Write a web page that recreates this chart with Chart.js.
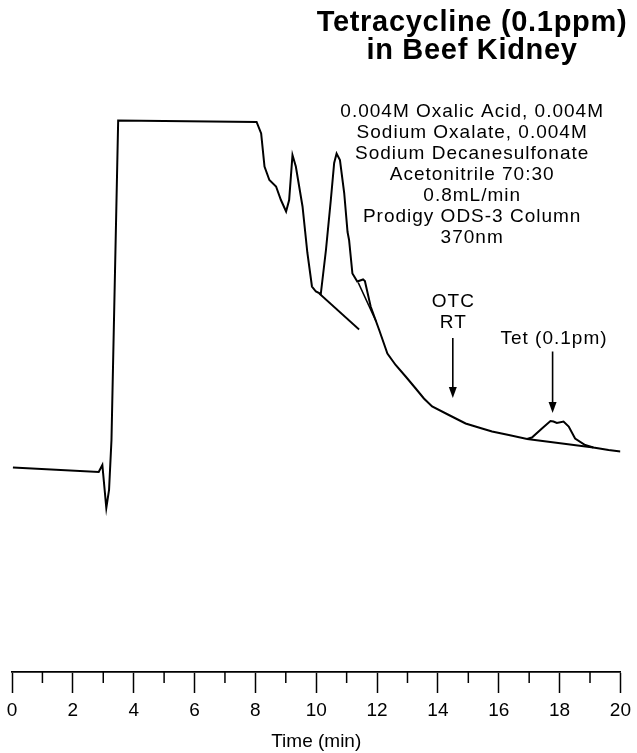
<!DOCTYPE html>
<html>
<head>
<meta charset="utf-8">
<script src="https://cdn.jsdelivr.net/npm/chart.js@4"></script>
<style>
    html, body { margin: 0; padding: 0; background: #fff; }
    #wrap { width: 637px; height: 753px; position: relative; }
</style>
</head>
<body>
<div id="wrap"><canvas id="chart"></canvas></div>
<script>
// chromatogram trace (time in min, detector response in arbitrary units)
const traceTime = [
    0.03, 2.85, 2.97, 3.10, 3.19, 3.27, 3.49, 8.04, 8.19, 8.30,
    8.46, 8.68, 8.84, 9.01, 9.11, 9.22, 9.33, 9.55, 9.71, 9.86,
    9.99, 10.15, 10.32, 10.48, 10.59, 10.67, 10.78, 10.92, 11.03, 11.08,
    11.19, 11.35, 11.54, 11.60, 11.79, 12.07, 12.34, 12.61, 12.94, 13.27,
    13.54, 13.81, 14.36, 14.91, 15.45, 15.78, 16.33, 16.93, 17.09, 17.42,
    17.70, 17.80, 17.91, 18.13, 18.30, 18.51, 18.84, 19.11, 19.61, 20.00
];
const traceSignal = [
    40.9, 40.0, 41.4, 32.8, 36.4, 46.4, 110.3, 110.0, 107.7, 101.1,
    98.4, 97.1, 94.4, 92.1, 94.4, 103.4, 101.1, 93.1, 83.8, 77.1,
    76.1, 75.6, 84.4, 94.4, 101.8, 103.7, 102.4, 95.8, 88.0, 86.4,
    79.7, 78.1, 78.5, 78.2, 73.1, 68.4, 63.7, 61.4, 59.1, 56.7,
    54.7, 53.1, 51.4, 49.7, 48.7, 48.1, 47.4, 46.6, 46.9, 48.7,
    50.2, 50.1, 49.8, 50.1, 49.1, 46.7, 45.4, 44.9, 44.4, 44.1
];

// integration baselines drawn under the peaks
const baseTime1   = [10.10, 11.41];
const baseSignal1 = [75.7, 68.5];
const baseTime2   = [11.38, 11.97];
const baseSignal2 = [77.9, 70.1];
const baseTime3   = [16.93, 19.11];
const baseSignal3 = [46.6, 44.9];

// arrows: [time, from, to]
const otcArrow = [14.49, 66.8, 54.8];
const tetArrow = [17.77, 64.1, 51.8];

// axis ticks
const majorTicks = [0, 2, 4, 6, 8, 10, 12, 14, 16, 18, 20];
const minorTicks = [1, 3, 5, 7, 9, 11, 13, 15, 17, 19];

const titleLines = ['Tetracycline (0.1ppm)', 'in Beef Kidney'];
const methodLines = [
    '0.004M Oxalic Acid, 0.004M',
    'Sodium Oxalate, 0.004M',
    'Sodium Decanesulfonate',
    'Acetonitrile 70:30',
    '0.8mL/min',
    'Prodigy ODS-3 Column',
    '370nm'
];
const otcLines = ['OTC', 'RT'];
const tetLines = ['Tet (0.1pm)'];

let chromatogram = {
    variables : {
        ink      : '#000',
        fontFace : '"Liberation Sans", Arial, Helvetica, sans-serif'
    },
    functions : {
        points : ( xs, ys ) => xs.map( ( t, i ) => ( { x: t, y: ys[ i ] } ) ),

        line : ( data, width ) => ( {
            data: data,
            showLine: true,
            borderColor: chromatogram.variables.ink,
            borderWidth: width,
            pointRadius: 0,
            tension: 0,
            fill: false
        } ),

        // text block centred on a (time, signal) spot, lines stepping down in pixels
        textBlock : ( ctx, chart, lines, t, v, font, step, spacing ) => {
            let px = chart.scales.x.getPixelForValue( t );
            let py = chart.scales.y.getPixelForValue( v );
            ctx.font = font;
            ctx.letterSpacing = spacing + 'px';
            ctx.textAlign = 'center';
            ctx.textBaseline = 'alphabetic';
            ctx.fillStyle = chromatogram.variables.ink;
            lines.forEach( ( s, i ) => {
                ctx.fillText( s, px + spacing / 2, py + i * step );
            } );
        },

        arrow : ( ctx, chart, a ) => {
            let px   = chart.scales.x.getPixelForValue( a[ 0 ] );
            let top  = chart.scales.y.getPixelForValue( a[ 1 ] );
            let tip  = chart.scales.y.getPixelForValue( a[ 2 ] );
            ctx.strokeStyle = chromatogram.variables.ink;
            ctx.fillStyle = chromatogram.variables.ink;
            ctx.lineWidth = 1.6;
            ctx.beginPath();
            ctx.moveTo( px, top );
            ctx.lineTo( px, tip - 8 );
            ctx.stroke();
            ctx.beginPath();
            ctx.moveTo( px - 4, tip - 11 );
            ctx.lineTo( px + 4, tip - 11 );
            ctx.lineTo( px, tip );
            ctx.closePath();
            ctx.fill();
        }
    }
};

const extras = {
    id: 'extras',
    afterDraw( chart ) {
        let ctx  = chart.ctx;
        let area = chart.chartArea;
        let fn   = chromatogram.functions;
        let face = chromatogram.variables.fontFace;
        ctx.save();

        // minor ticks, shorter than the labelled ones
        ctx.strokeStyle = chromatogram.variables.ink;
        ctx.lineWidth = 1.5;
        minorTicks.forEach( ( t ) => {
            let px = chart.scales.x.getPixelForValue( t );
            ctx.beginPath();
            ctx.moveTo( px, area.bottom );
            ctx.lineTo( px, area.bottom + 11 );
            ctx.stroke();
        } );

        fn.arrow( ctx, chart, otcArrow );
        fn.arrow( ctx, chart, tetArrow );

        fn.textBlock( ctx, chart, titleLines, 15.11, 128.2, 'bold 29px ' + face, 28, 0.7 );
        fn.textBlock( ctx, chart, methodLines, 15.11, 111.0, '19px ' + face, 21, 1 );
        fn.textBlock( ctx, chart, otcLines, 14.49, 73.1, '19px ' + face, 21.5, 1 );
        fn.textBlock( ctx, chart, tetLines, 17.80, 65.7, '19px ' + face, 21, 1 );
        ctx.restore();
    }
};

let fn = chromatogram.functions;
let ctx = document.getElementById( 'chart' ).getContext( '2d' );
let chart = new Chart( ctx, {
    type: 'scatter',
    data: {
        datasets: [
            fn.line( fn.points( traceTime, traceSignal ), 2 ),
            fn.line( fn.points( baseTime1, baseSignal1 ), 1.8 ),
            fn.line( fn.points( baseTime2, baseSignal2 ), 1.6 ),
            fn.line( fn.points( baseTime3, baseSignal3 ), 1.8 )
        ]
    },
    options: {
        responsive: true,
        maintainAspectRatio: false,
        animation: false,
        layout: { padding: { left: 12, right: 15, top: 72, bottom: 0 } },
        plugins: {
            legend: { display: false },
            tooltip: { enabled: false }
        },
        scales: {
            x: {
                type: 'linear',
                min: 0,
                max: 20,
                afterFit: ( scale ) => { scale.height = 81; },
                afterBuildTicks: ( scale ) => { scale.ticks = majorTicks.map( ( v ) => ( { value: v } ) ); },
                grid: {
                    drawOnChartArea: false,
                    drawTicks: true,
                    tickLength: 21,
                    tickWidth: 1.5,
                    tickColor: '#000'
                },
                border: { display: true, color: '#000', width: 1.8 },
                ticks: {
                    color: '#000',
                    padding: 6,
                    maxRotation: 0,
                    font: { family: chromatogram.variables.fontFace, size: 19 }
                },
                title: {
                    display: true,
                    text: 'Time (min)',
                    color: '#000',
                    padding: { top: 0, bottom: 0 },
                    font: { family: chromatogram.variables.fontFace, size: 19 }
                }
            },
            y: {
                display: false,
                min: 0,
                max: 120
            }
        }
    },
    plugins: [ extras ]
} );
</script>
</body>
</html>
